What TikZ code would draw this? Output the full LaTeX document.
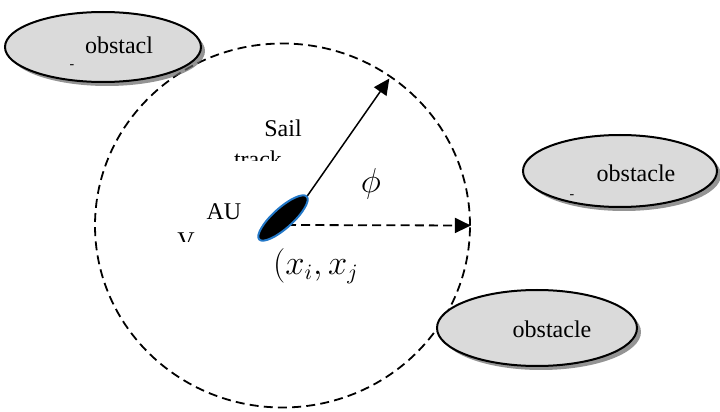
\documentclass[tikz,border=0pt]{standalone}
\usepackage{fontspec}
\setmainfont{Liberation Serif}
\usetikzlibrary{arrows.meta,shapes.geometric,shadows}
\definecolor{haze}{RGB}{218,218,218}
\definecolor{rim}{RGB}{35,120,200}
\tikzset{
  >={Triangle[length=8pt,width=7.5pt]},
  obst/.style={ellipse,draw=black,line width=1pt,fill=haze,inner sep=0pt,
    minimum width=98pt,minimum height=35pt,
    drop shadow={shadow xshift=2pt,shadow yshift=-2pt,fill=black!60,opacity=0.7}},
  zone/.style={ellipse,draw=black,line width=0.9pt,dash pattern=on 4.5pt off 2.6pt,
    minimum width=187.5pt,minimum height=182pt,inner sep=0pt},
  reach/.style={->,line width=0.9pt,dash pattern=on 4.5pt off 2.6pt},
  head/.style={->,line width=0.75pt},
  auv/.style={ellipse,fill=black,draw=rim,line width=1pt,inner sep=0pt,
    minimum width=32pt,minimum height=10pt},
  tag/.style={font=\fontsize{12}{14}\selectfont,inner sep=0pt},
  tick/.style={font=\fontsize{7}{8}\selectfont,inner sep=0pt},
  sym/.style={font=\fontsize{16}{18}\selectfont,inner sep=0pt},
}

\begin{document}
\begin{tikzpicture}[x=0.5pt,y=-0.5pt]
  \useasboundingbox (0,0) rectangle (720,412);
  % sensing range and headings
  \node[zone] (range) at (282.5,225.5) {};
  \coordinate (pos) at (287,225);
  \draw[reach] (pos) -- (range.east);
  \draw[head,shorten >=1.5pt] (pos) -- (range.54);
  \node[auv,rotate=42] (auv) at (283,218) {};
  % obstacles
  \node[obst] (ob1) at (103,47) {};
  \node[obst,minimum width=97pt,minimum height=36pt] (ob2) at (620,171) {};
  \node[obst,minimum width=100pt,minimum height=38pt] (ob3) at (537,328) {};
  \node[tag] (ob1t) at (119,45) {obstacl};
  \node[tick] (ob1d) at (72,67) {-};
  \node[tag] (ob2t) at (636,173) {obstacle};
  \node[tick] (ob2d) at (572,197) {-};
  \node[tag] (ob3t) at (552,329) {obstacle};
  % labels
  \node[tag,anchor=base] (sail) at (283,137) {Sail};
  \begin{scope}
    \clip (200,140) rectangle (330,161);
    \node[tag,anchor=base] (track) at (258,168) {track};
  \end{scope}
  \node[tag,anchor=base] (au) at (224,220) {AU};
  \begin{scope}
    \clip (160,225) rectangle (210,242);
    \node[tag,anchor=base] (v) at (186,249) {V};
  \end{scope}
  \begin{scope}
    \clip (260,245) rectangle (358,290);
    \node[sym] (xy) at (322,266) {$(x_i,x_j)$};
  \end{scope}
  \node[sym] (phi) at (371,184) {$\phi$};
\end{tikzpicture}
\end{document}
